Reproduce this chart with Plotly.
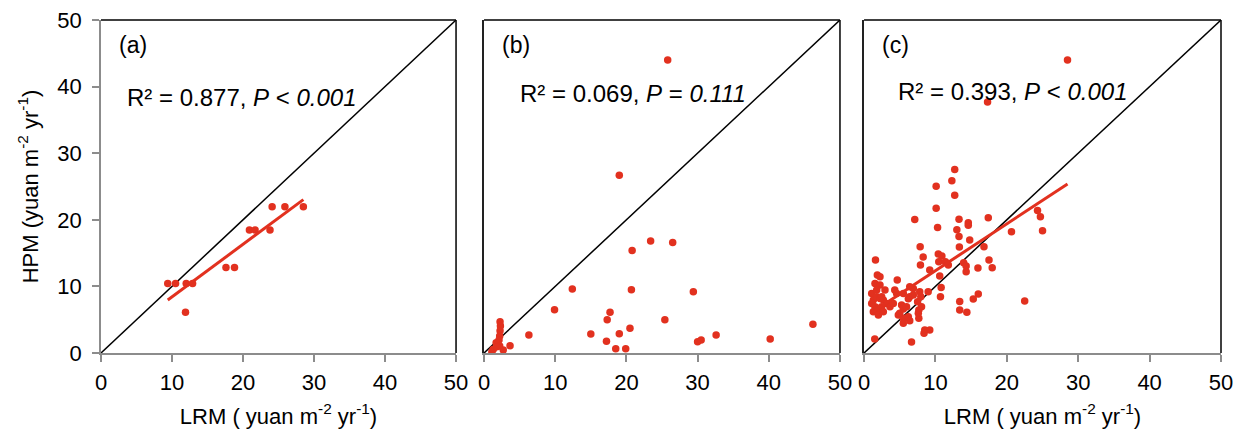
import numpy as np
import plotly.graph_objects as go

# Panel (a)
a_x = [9.4, 10.5, 12.0, 12.9, 11.9, 17.6, 18.8, 20.9, 21.7, 23.8, 24.1, 25.9, 28.5]
a_y = [10.45, 10.45, 10.45, 10.45, 6.1, 12.85, 12.85, 18.45, 18.45, 18.45, 21.95, 21.95, 21.95]

# Panel (b)
b_x = [25.8, 19.0, 23.4, 26.5, 20.8, 12.4, 20.7, 29.4, 9.9, 17.7, 17.3, 25.4, 20.5, 46.2,
       6.3, 15.0, 19.0, 32.6, 17.2, 30.0, 30.5, 40.2, 18.5, 19.9, 3.65,
       2.25, 2.3, 2.25, 2.2, 2.1, 1.7, 2.2, 2.7, 1.3, 1.1, 1.8]
b_y = [44.0, 26.7, 16.8, 16.6, 15.4, 9.6, 9.5, 9.2, 6.5, 6.1, 5.0, 5.0, 3.7, 4.3,
       2.7, 2.85, 2.9, 2.7, 1.75, 1.7, 1.95, 2.1, 0.65, 0.65, 1.1,
       4.7, 4.05, 3.35, 2.55, 1.95, 1.55, 1.05, 0.45, 0.55, 0.2, 0.95]

# Panel (c)
c_x = [28.5, 17.3, 12.7, 12.3, 10.1, 12.7, 10.1, 7.1, 13.3, 17.4, 14.6, 14.6, 10.3, 13.0,
       13.3, 14.8, 24.3, 24.7, 25.0, 20.65, 7.86, 13.35, 16.8, 8.28, 10.4, 10.9, 10.47,
       7.9, 17.5, 17.95, 15.95, 1.6, 11.8, 11.4, 13.95, 14.3, 14.3, 9.2, 10.6, 4.65,
       6.4, 6.9, 1.86, 2.23, 1.53, 2.23, 10.8, 10.7, 4.3, 4.56, 5.5, 7.8, 7.95, 6.2,
       7.5, 16.0, 15.3, 13.4, 13.4, 14.4, 22.5, 5.26, 5.5, 4.8, 5.5, 6.4, 5.5, 7.67,
       7.67, 8.5, 9.2, 8.4, 1.5, 6.65,
       1.07, 1.3, 1.77, 2.23, 2.7, 3.16, 1.53, 2.0, 2.47, 1.3, 2.0, 2.7, 3.63, 4.1,
       2.47, 1.07, 1.77, 2.93, 6.4, 6.9, 8.98, 5.95, 6.2, 5.0, 8.05, 7.6]
c_y = [44.0, 37.7, 27.55, 25.85, 25.05, 23.7, 21.75, 20.05, 20.1, 20.3, 19.55, 19.2, 18.85,
       18.5, 17.5, 16.95, 21.4, 20.45, 18.35, 18.2, 15.95, 15.9, 15.95, 14.4, 14.85, 14.55,
       13.7, 13.2, 13.95, 12.8, 12.75, 13.95, 13.2, 13.7, 13.55, 13.05, 12.2, 12.45, 11.55,
       10.95, 9.95, 9.7, 11.7, 11.45, 10.45, 10.2, 9.85, 8.45, 9.45, 8.95, 8.95, 9.2, 8.45,
       8.15, 7.7, 8.85, 8.1, 7.75, 6.45, 6.1, 7.8, 7.2, 6.6, 5.7, 5.2, 4.85, 4.45, 6.45,
       5.2, 3.45, 3.45, 2.95, 2.1, 1.65,
       8.95, 7.95, 8.45, 8.2, 7.95, 7.45, 6.95, 6.7, 6.95, 6.2, 5.7, 6.2, 6.95, 7.45,
       8.45, 7.45, 9.45, 9.45, 8.45, 8.7, 9.2, 6.95, 5.45, 5.95, 6.95, 5.95]

panel_labels = ["(a)", "(b)", "(c)"]
stats_text = ["R² = 0.877, <i>P</i> &lt; <i>0.001</i>",
              "R² = 0.069, <i>P</i> = <i>0.111</i>",
              "R² = 0.393, <i>P</i> &lt; <i>0.001</i>"]
show_fit = [True, False, True]
ticks = [0, 10, 20, 30, 40, 50]

RED = "#E2311F"
FONT = "Liberation Sans, Arial, sans-serif"
GREY = "#8C8C8C"

domains = [[0.0, 0.3170], [0.3420, 0.6598], [0.6813, 1.0]]
datasets = [(a_x, a_y), (b_x, b_y), (c_x, c_y)]
stat_pos = [(3.4, 38.4), (4.8, 39.0), (4.5, 39.2)]

fig = go.Figure()
for i, (xs, ys) in enumerate(datasets):
    xa = "x" if i == 0 else f"x{i+1}"
    ya = "y" if i == 0 else f"y{i+1}"
    # 1:1 line
    fig.add_trace(go.Scatter(x=[0, 50], y=[0, 50], mode="lines",
                             line=dict(color="black", width=1.5),
                             xaxis=xa, yaxis=ya, showlegend=False, hoverinfo="skip"))
    fig.add_trace(go.Scatter(x=xs, y=ys, mode="markers",
                             marker=dict(color=RED, size=7.5),
                             xaxis=xa, yaxis=ya, showlegend=False))
    if show_fit[i]:
        xarr = np.array(xs)
        k, b = np.polyfit(xarr, np.array(ys), 1)
        fx = np.array([xarr.min(), xarr.max()])
        fig.add_trace(go.Scatter(x=fx, y=k * fx + b, mode="lines",
                                 line=dict(color=RED, width=3),
                                 xaxis=xa, yaxis=ya, showlegend=False, hoverinfo="skip"))
    axkey = "xaxis" if i == 0 else f"xaxis{i+1}"
    aykey = "yaxis" if i == 0 else f"yaxis{i+1}"
    fig.layout[axkey] = dict(
        domain=domains[i], range=[0, 50], tickvals=ticks, ticks="outside", ticklen=7,
        tickcolor=GREY, tickwidth=1.5, showline=True, linecolor=GREY, linewidth=1.5,
        showgrid=False, zeroline=False, anchor=ya, automargin=False,
        ticklabelstandoff=2, ticklabeloverflow="allow",
        tickfont=dict(family=FONT, size=22, color="black"),
        title=dict(text="LRM ( yuan m<sup>-2</sup> yr<sup>-1</sup>)" if i != 1 else "",
                   font=dict(family=FONT, size=22, color="black"), standoff=14),
        layer="above traces")
    fig.layout[aykey] = dict(
        domain=[0, 1], range=[0, 50], tickvals=ticks,
        ticks="outside" if i == 0 else "", ticklen=7, tickcolor=GREY, tickwidth=1.5,
        showticklabels=(i == 0), showline=True,
        linecolor=GREY if i == 0 else "#222222", linewidth=1.5,
        showgrid=False, zeroline=False, anchor=xa, automargin=False,
        ticklabelstandoff=6, ticklabeloverflow="allow",
        tickfont=dict(family=FONT, size=22, color="black"),
        title=dict(text="HPM (yuan m<sup>-2</sup> yr<sup>-1</sup>)" if i == 0 else "",
                   font=dict(family=FONT, size=22, color="black"), standoff=13),
        layer="above traces")
    # top/right border
    fig.add_shape(type="line", xref=f"{xa} domain", yref=f"{ya} domain",
                  x0=0, x1=1, y0=1, y1=1, line=dict(color="black", width=1.5))
    fig.add_shape(type="line", xref=f"{xa} domain", yref=f"{ya} domain",
                  x0=1, x1=1, y0=0, y1=1, line=dict(color="black", width=1.5))
    fig.add_annotation(x=2.2, y=46.2, xref=xa, yref=ya, text=panel_labels[i],
                       showarrow=False, xanchor="left", yanchor="middle",
                       font=dict(family=FONT, size=23, color="black"))
    fig.add_annotation(x=stat_pos[i][0], y=stat_pos[i][1], xref=xa, yref=ya,
                       text=stats_text[i], showarrow=False, xanchor="left",
                       yanchor="middle", font=dict(family=FONT, size=24, color="black"))

# page body has an 8px margin; size the figure so the plot areas land where intended
fig.update_layout(width=1238, height=429, paper_bgcolor="white", plot_bgcolor="white",
                  margin=dict(l=93, r=25, t=12, b=84))
fig.write_html("out.html")
